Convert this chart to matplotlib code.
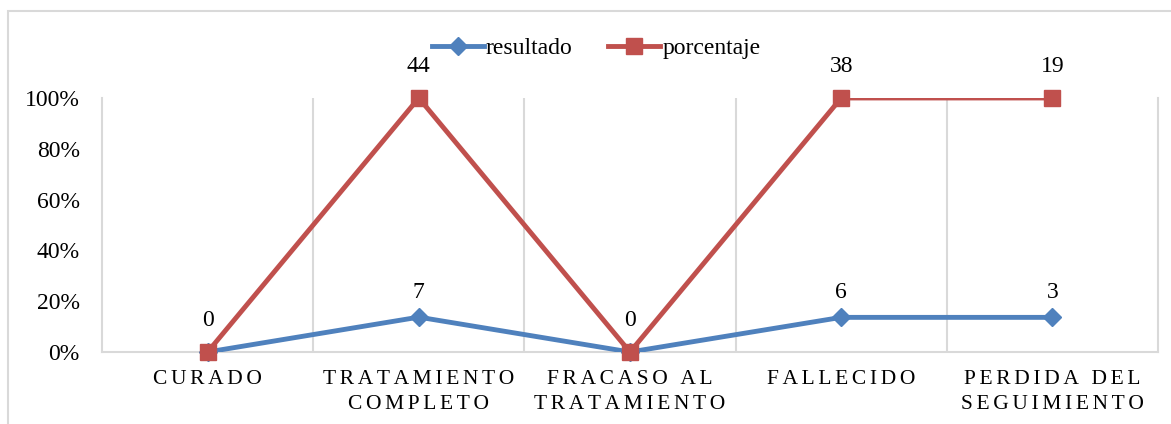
import matplotlib
matplotlib.use("Agg")
import matplotlib.pyplot as plt
from matplotlib.lines import Line2D
from matplotlib.patches import Rectangle
import numpy as np

plt.rcParams['font.family'] = ['Liberation Serif', 'DejaVu Serif']

categories = ["CURADO", "TRATAMIENTO\nCOMPLETO", "FRACASO AL\nTRATAMIENTO",
              "FALLECIDO", "PERDIDA DEL\nSEGUIMIENTO"]
resultado = [0, 7, 0, 6, 3]
porcentaje = [0, 44, 0, 38, 19]

BLUE = "#4F81BD"
RED = "#C0504D"
GRID = "#D9D9D9"


def spaced(label, gap="\u2006"):
    """Spread letters apart the way the category axis does."""
    return "\n".join(gap.join(line) for line in label.split("\n"))


# 100% stacked line: each series as a cumulative share of the category total
res = np.array(resultado, dtype=float)
por = np.array(porcentaje, dtype=float)
total = res + por
safe = np.where(total > 0, total, 1)
y_res = np.where(total > 0, res / safe, 0)
y_por = np.where(total > 0, (res + por) / safe, 0)

fig = plt.figure(figsize=(11.71, 4.24), dpi=100)
fig.patches.append(Rectangle((8 / 1171, -0.1), 1.2, 1 - 11 / 424 + 0.1,
                             transform=fig.transFigure, fill=False,
                             edgecolor=GRID, linewidth=1.5))
ax = fig.add_axes([0.0871, 0.1698, 0.9018, 0.5991])

x = np.arange(len(categories))
ax.plot(x, y_res, color=BLUE, linewidth=3.5, solid_joinstyle='round', zorder=3)
ax.plot(x, y_por, color=RED, linewidth=3.5, solid_joinstyle='round', zorder=3)
ax.plot(x, y_res, linestyle='none', marker='D', markersize=9, color=BLUE,
        clip_on=False, zorder=4)
ax.plot(x, y_por, linestyle='none', marker='s', markersize=11, color=RED,
        clip_on=False, zorder=5)

# where both points coincide (empty category) the red label covers the blue one
for xi, yv, yp, v in zip(x, y_res, y_por, resultado):
    if yv == yp:
        continue
    ax.annotate(str(v), (xi, yv), xytext=(0, 10), textcoords='offset points',
                ha='center', va='bottom', fontsize=17, annotation_clip=False)
for xi, yv, v in zip(x, y_por, porcentaje):
    ax.annotate(str(v), (xi, yv), xytext=(0, 15), textcoords='offset points',
                ha='center', va='bottom', fontsize=17, annotation_clip=False)

ax.set_xlim(-0.5, len(categories) - 0.5)
ax.set_ylim(0, 1)
ax.set_yticks(np.arange(0, 1.01, 0.2))
ax.set_yticklabels([f"{int(round(t * 100))}%" for t in np.arange(0, 1.01, 0.2)])
ax.set_xticks(x)
ax.set_xticklabels([spaced(c) for c in categories], fontsize=15.5, linespacing=1.4)
ax.tick_params(axis='y', length=0, pad=16, labelsize=17)
ax.tick_params(axis='x', length=0, pad=13)

# vertical separators between categories
for b in np.arange(0.5, len(categories) - 0.5):
    ax.axvline(b, color=GRID, linewidth=1.5, zorder=1)
for side in ('left', 'right', 'bottom'):
    ax.spines[side].set_color(GRID)
    ax.spines[side].set_linewidth(1.5)
ax.spines['top'].set_visible(False)

handles = [
    Line2D([], [], color=BLUE, linewidth=3.5, marker='D', markersize=9),
    Line2D([], [], color=RED, linewidth=3.5, marker='s', markersize=11),
]
fig.legend(handles, ["resultado", "porcentaje"], loc='center',
           bbox_to_anchor=(0.509, 0.886), ncol=2, frameon=False, fontsize=17,
           handlelength=2.2, handletextpad=0.1, columnspacing=1.5)

fig.savefig("out.png", dpi=100)
